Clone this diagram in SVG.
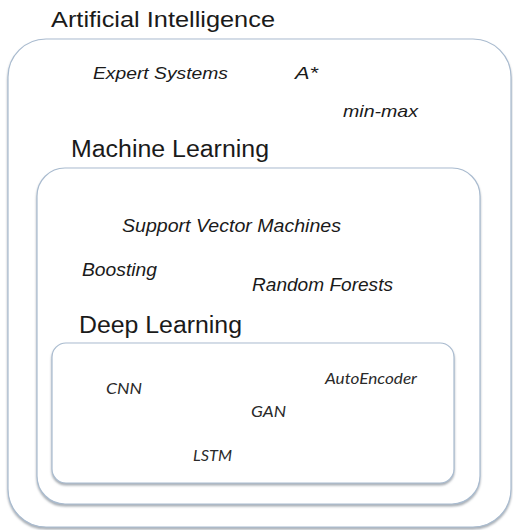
<svg xmlns="http://www.w3.org/2000/svg" width="513" height="530" viewBox="0 0 513 530">
<defs>
<filter id="sh" x="-5%" y="-5%" width="110%" height="115%">
<feDropShadow dx="0" dy="2" stdDeviation="1.2" flood-color="#6a7480" flood-opacity="0.6"/>
</filter>
</defs>
<style>
.box{fill:#ffffff;stroke:#a9bbcf;stroke-width:1.2;filter:url(#sh)}
.title{font-family:"Liberation Sans",Arial,sans-serif;fill:#1a1a1a}
.ml{font-family:"Liberation Sans",Arial,sans-serif;font-style:italic;fill:#1a1a1a}
.dl{font-family:Lato,"Open Sans",sans-serif;font-style:italic;fill:#2a2a2a}
</style>
<rect width="513" height="530" fill="#ffffff"/>
<g id="ai">
<rect class="box" x="8" y="39" width="503" height="488" rx="38" ry="38"/>
<text class="title" x="51" y="26.5" font-size="21.5" textLength="224" lengthAdjust="spacingAndGlyphs">Artificial Intelligence</text>
<text class="ml" x="93" y="79" font-size="17" textLength="135" lengthAdjust="spacingAndGlyphs">Expert Systems</text>
<text class="ml" x="295" y="79" font-size="17" textLength="23" lengthAdjust="spacingAndGlyphs">A*</text>
<text class="ml" x="343" y="117" font-size="17" textLength="75" lengthAdjust="spacingAndGlyphs">min-max</text>
</g>
<g id="ml">
<rect class="box" x="37" y="168" width="443" height="336" rx="28" ry="28"/>
<text class="title" x="71" y="157" font-size="23.5" textLength="198" lengthAdjust="spacingAndGlyphs">Machine Learning</text>
<text class="ml" x="122" y="232" font-size="18" textLength="219" lengthAdjust="spacingAndGlyphs">Support Vector Machines</text>
<text class="ml" x="82" y="276" font-size="18" textLength="75" lengthAdjust="spacingAndGlyphs">Boosting</text>
<text class="ml" x="252" y="291" font-size="18" textLength="141" lengthAdjust="spacingAndGlyphs">Random Forests</text>
</g>
<g id="dl">
<rect class="box" x="52" y="343" width="402" height="140" rx="14" ry="14"/>
<text class="title" x="79" y="333" font-size="23.5" textLength="163" lengthAdjust="spacingAndGlyphs">Deep Learning</text>
<text class="dl" x="106" y="394" font-size="16" textLength="36" lengthAdjust="spacingAndGlyphs">CNN</text>
<text class="dl" x="325" y="384" font-size="16" textLength="92" lengthAdjust="spacingAndGlyphs">AutoEncoder</text>
<text class="dl" x="251" y="417" font-size="16" textLength="35" lengthAdjust="spacingAndGlyphs">GAN</text>
<text class="dl" x="193" y="461" font-size="16" textLength="39" lengthAdjust="spacingAndGlyphs">LSTM</text>
</g>
<g id="connectors"/>
</svg>
